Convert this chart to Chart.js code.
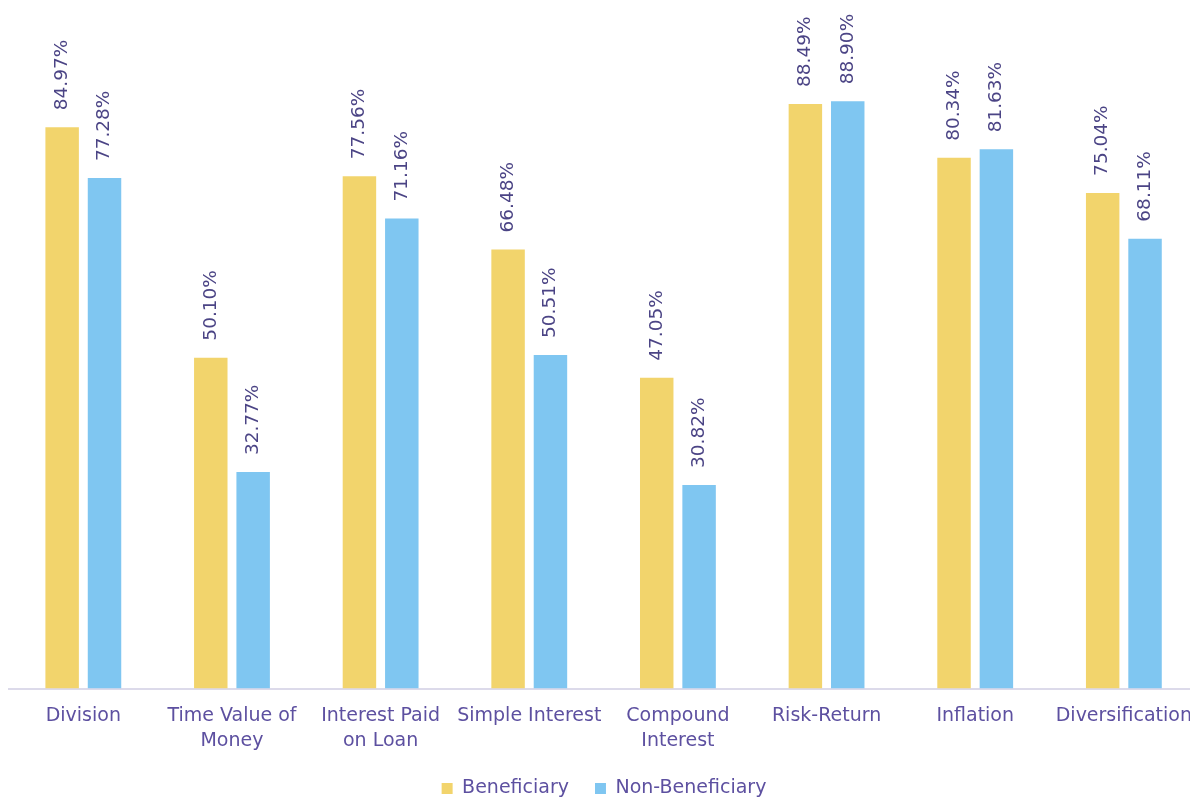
<!DOCTYPE html>
<html>
<head>
<meta charset="utf-8">
<script src="https://cdn.jsdelivr.net/npm/chart.js@4.4.1/dist/chart.umd.min.js"></script>
<style>
  html, body { margin: 0; padding: 0; background: #fff; overflow: hidden; }
  #wrap { width: 1199px; height: 799px; position: relative; }
</style>
</head>
<body>
<div id="wrap"><canvas id="barChart"></canvas></div>
<script>
// chủ đề và tỉ lệ (%) theo từng nhóm
const topics = [
    'Division',
    ['Time Value of', 'Money'],
    ['Interest Paid', 'on Loan'],
    'Simple Interest',
    ['Compound', 'Interest'],
    'Risk-Return',
    'Inflation',
    'Diversification'
];
const beneficiary = [84.97, 50.10, 77.56, 66.48, 47.05, 88.49, 80.34, 75.04];
const nonBeneficiary = [77.28, 32.77, 71.16, 50.51, 30.82, 88.90, 81.63, 68.11];

const FONT = "'DejaVu Sans', sans-serif";
const TEXT_COLOR = '#5d50a0';
const VALUE_COLOR = '#4b4485';

// vẽ nhãn phần trăm xoay dọc phía trên mỗi cột
const valueLabels = {
    id: 'valueLabels',
    afterDatasetsDraw(chart) {
        const ctx = chart.ctx;
        ctx.save();
        ctx.font = '18.5px ' + FONT;
        ctx.fillStyle = VALUE_COLOR;
        ctx.textAlign = 'left';
        ctx.textBaseline = 'middle';
        chart.data.datasets.forEach((ds, i) => {
            chart.getDatasetMeta(i).data.forEach((bar, j) => {
                ctx.save();
                ctx.translate(bar.x, bar.y - 17);
                ctx.rotate(-Math.PI / 2);
                ctx.fillText(ds.data[j].toFixed(2) + '%', 0, 0);
                ctx.restore();
            });
        });
        ctx.restore();
    }
};

// chú thích: giữ khoảng cách ngang rộng nhưng thu chiều cao lại
const legendHeight = {
    id: 'legendHeight',
    beforeInit(chart) {
        const fit = chart.legend.fit;
        chart.legend.fit = function () {
            fit.bind(chart.legend)();
            this.height = 46;
        };
    }
};

const ctx = document.getElementById('barChart').getContext('2d');
new Chart(ctx, {
    type: 'bar',
    data: {
        labels: topics,
        datasets: [{
            label: 'Beneficiary',
            data: beneficiary,
            backgroundColor: '#f2d46c',
        }, {
            label: 'Non-Beneficiary',
            data: nonBeneficiary,
            backgroundColor: '#7fc6f1',
        }]
    },
    options: {
        responsive: true,
        maintainAspectRatio: false,
        animation: false,
        layout: { autoPadding: false, padding: { top: 28, left: 9, right: 0, bottom: 0 } },
        datasets: {
            bar: { categoryPercentage: 0.57, barPercentage: 0.79 }
        },
        scales: {
            x: {
                grid: { display: false },
                border: { color: '#dcdaea', width: 2 },
                ticks: {
                    color: TEXT_COLOR,
                    font: { family: FONT, size: 19, lineHeight: 1.3 },
                    padding: 7,
                    maxRotation: 0,
                    autoSkip: false
                },
                afterFit(scale) {
                    scale.height -= 7;
                }
            },
            y: {
                display: false,
                min: 0,
                max: 100
            }
        },
        plugins: {
            legend: {
                position: 'bottom',
                labels: {
                    color: TEXT_COLOR,
                    font: { family: FONT, size: 19 },
                    boxWidth: 11,
                    boxHeight: 11,
                    padding: 26
                }
            },
            tooltip: { enabled: false }
        }
    },
    plugins: [valueLabels, legendHeight]
});
</script>
</body>
</html>
